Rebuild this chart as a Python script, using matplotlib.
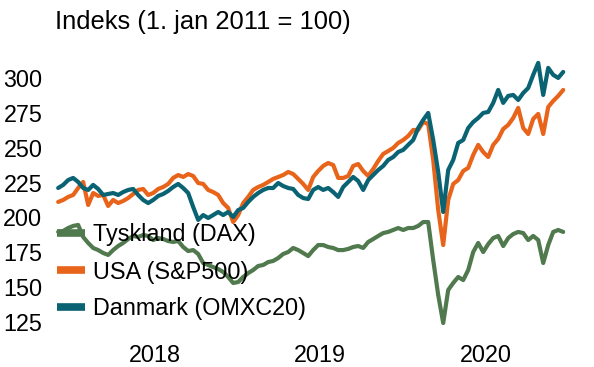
import matplotlib
matplotlib.use("Agg")
import matplotlib.pyplot as plt
import pandas as pd

plt.rcParams["font.family"] = ["Liberation Sans", "DejaVu Sans"]

title = "Indeks (1. jan 2011 = 100)"
series_names = ["Tyskland (DAX)", "USA (S&P500)", "Danmark (OMXC20)"]
colors = ["#507A4E", "#E8641B", "#0A6373"]

first_date = "2017-11-30"
last_date = "2020-12-21"

dax = [
    189.6, 190.3, 192.4, 193.9, 194.6, 186.0, 181.7, 178.1, 176.6, 174.5,
    173.1, 176.6, 179.5, 181.7, 184.5, 186.7, 186.0, 187.4, 186.7, 183.8,
    185.2, 184.5, 183.1, 182.4, 183.1, 178.8, 175.9, 176.6, 173.8, 167.3,
    165.9, 164.4, 163.0, 160.9, 157.3, 153.0, 153.7, 157.3, 160.1, 162.3,
    165.2, 165.9, 168.0, 168.8, 170.9, 173.8, 175.2, 178.1, 176.6, 174.5,
    172.3, 176.6, 180.2, 180.2, 178.8, 178.1, 176.6, 176.6, 177.4, 178.8,
    179.5, 178.1, 182.4, 184.5, 186.7, 188.8, 189.6, 191.0, 192.4, 191.0,
    192.4, 192.4, 193.9, 196.7, 196.7, 169.5, 144.4, 124.3, 148.0, 153.0,
    157.3, 155.1, 162.3, 175.2, 181.7, 175.2, 180.9, 185.2, 186.7, 179.5,
    185.2, 188.1, 189.6, 188.8, 183.8, 186.7, 183.8, 167.3, 180.2, 189.6,
    191.0, 189.6,
]

sp500 = [
    211.1, 212.5, 214.7, 216.1, 221.1, 225.4, 208.9, 217.5, 215.4, 216.1,
    208.2, 212.5, 210.3, 211.8, 213.9, 216.8, 219.7, 220.4, 216.1, 217.5,
    220.4, 221.8, 224.0, 228.3, 230.4, 229.0, 231.1, 229.7, 224.7, 224.0,
    219.7, 218.2, 216.1, 210.3, 206.8, 196.7, 201.7, 210.3, 214.7, 219.7,
    221.8, 223.3, 225.4, 227.6, 229.0, 230.4, 232.6, 231.1, 227.6, 224.0,
    219.7, 229.0, 233.3, 236.9, 239.0, 237.6, 228.3, 228.3, 229.7, 236.9,
    238.3, 233.3, 229.7, 234.7, 240.5, 245.5, 247.6, 249.8, 253.4, 255.5,
    258.4, 262.7, 262.7, 268.4, 267.0, 241.2, 205.3, 180.2, 212.5, 224.0,
    226.8, 233.3, 235.5, 244.8, 252.0, 246.9, 243.3, 252.0, 256.3, 263.4,
    266.3, 271.3, 278.5, 264.1, 259.8, 270.6, 274.2, 259.8, 279.2, 283.5,
    287.1, 291.4,
]

omxc20 = [
    221.1, 223.3, 226.8, 228.3, 225.4, 221.1, 219.7, 223.3, 220.4, 216.1,
    216.8, 217.5, 216.1, 218.2, 219.7, 220.4, 216.1, 212.5, 210.3, 212.5,
    215.4, 216.8, 219.0, 221.8, 224.0, 221.1, 217.5, 207.5, 198.2, 201.7,
    199.6, 201.7, 203.9, 201.7, 203.9, 200.3, 205.3, 206.8, 211.1, 214.7,
    217.5, 219.7, 221.1, 221.1, 224.7, 222.5, 221.1, 220.4, 216.1, 213.9,
    213.2, 219.7, 221.8, 219.7, 221.1, 218.2, 214.7, 221.8, 225.4, 229.0,
    226.1, 219.7, 226.8, 230.4, 234.0, 236.9, 241.2, 243.3, 246.9, 248.4,
    252.0, 255.5, 264.1, 269.9, 274.9, 255.5, 232.6, 203.9, 234.0, 241.2,
    253.4, 255.5, 264.1, 268.4, 271.3, 274.9, 275.6, 282.1, 291.4, 282.1,
    287.1, 287.8, 284.2, 289.2, 292.8, 302.2, 310.8, 287.8, 307.2, 302.2,
    300.0, 304.3,
]

assert len(dax) == len(sp500) == len(omxc20)

dates = pd.date_range(first_date, last_date, periods=len(dax))

y_ticks = [125, 150, 175, 200, 225, 250, 275, 300]
year_labels = ["2018", "2019", "2020"]

W, H = 594, 367
fig = plt.figure(figsize=(W / 100, H / 100), dpi=100)
ax = fig.add_axes([55 / W, (H - 336) / H, (570 - 55) / W, (336 - 57) / H])

for name, vals, col in zip(series_names, [dax, sp500, omxc20], colors):
    ax.plot(dates, vals, color=col, lw=3.0, label=name,
            solid_joinstyle="round", solid_capstyle="round")

ax.set_ylim(115, 315)
ax.set_xlim(pd.Timestamp("2017-11-23"), pd.Timestamp("2021-01-05"))
ax.set_yticks(y_ticks)
ax.set_yticklabels([str(t) for t in y_ticks])

mid_year = [pd.Timestamp(f"{y}-07-02") for y in year_labels]
ax.set_xticks(mid_year)
ax.set_xticklabels(year_labels)

ax.tick_params(axis="both", length=0, labelsize=16.8, colors="black")
ax.tick_params(axis="y", pad=9)
ax.tick_params(axis="x", pad=6)
for s in ax.spines.values():
    s.set_visible(False)

fig.text(55 / W, 1 - 22 / H, title, fontsize=18.4, ha="left", va="center")

leg = ax.legend(
    loc="center left",
    bbox_to_anchor=(57 / W, 1 - 272 / H),
    bbox_transform=fig.transFigure,
    frameon=False,
    fontsize=16.8,
    handlelength=1.2,
    handletextpad=0.35,
    labelspacing=0.6,
    borderpad=0,
    borderaxespad=0,
)
for line in leg.get_lines():
    line.set_linewidth(5.5)
    line.set_solid_capstyle("butt")

fig.savefig("out.png", dpi=100)
